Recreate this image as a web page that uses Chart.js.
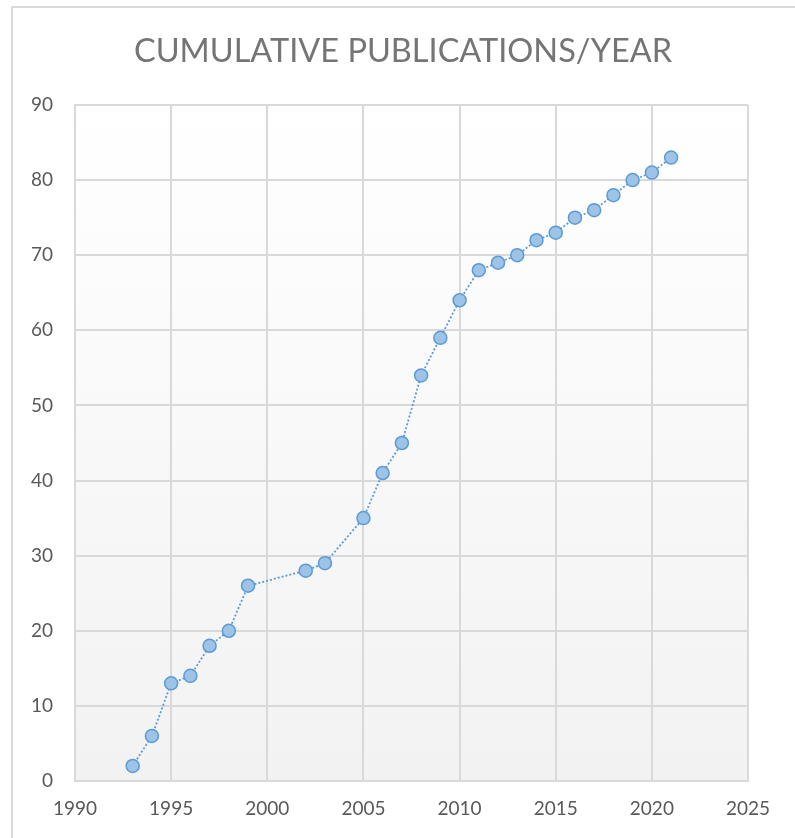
<!DOCTYPE html>
<html>
<head>
<meta charset="utf-8">
<script src="https://cdn.jsdelivr.net/npm/chart.js@4"></script>
<style>
  html, body { margin: 0; padding: 0; background: #ffffff; }
  #wrap { position: relative; width: 795px; height: 838px; overflow: hidden; }
  #frame { position: absolute; left: 11px; top: 6px; width: 900px; height: 900px;
           border-left: 2px solid #d9d9d9; border-top: 2px solid #d9d9d9; pointer-events: none; }
  #title { position: absolute; left: 11px; width: 784px; top: 30px; text-align: center;
           font-family: Lato, sans-serif; font-size: 32.5px; line-height: 40px; color: #757575; }
  canvas { position: absolute; left: 0; top: 0; }
</style>
</head>
<body>
<div id="wrap">
  <canvas id="c" width="795" height="838"></canvas>
  <div id="frame"></div>
  <div id="title"></div>
</div>
<script>
const years = [1993, 1994, 1995, 1996, 1997, 1998, 1999, 2002, 2003, 2005, 2006, 2007, 2008, 2009, 2010, 2011, 2012, 2013, 2014, 2015, 2016, 2017, 2018, 2019, 2020, 2021];
const publications = [2, 6, 13, 14, 18, 20, 26, 28, 29, 35, 41, 45, 54, 59, 64, 68, 69, 70, 72, 73, 75, 76, 78, 80, 81, 83];
const chartTitle = 'CUMULATIVE PUBLICATIONS/YEAR';

document.getElementById('title').textContent = chartTitle;
const points = years.map((y, i) => ({ x: y, y: publications[i] }));

const plotBg = {
  id: 'plotBg',
  beforeDraw(chart) {
    const { ctx, chartArea: a } = chart;
    const g = ctx.createLinearGradient(0, a.top, 0, a.bottom);
    g.addColorStop(0, '#ffffff');
    g.addColorStop(1, '#f2f2f2');
    ctx.save();
    ctx.fillStyle = g;
    ctx.fillRect(a.left, a.top, a.right - a.left, a.bottom - a.top);
    ctx.restore();
  }
};

new Chart(document.getElementById('c'), {
  type: 'scatter',
  data: {
    datasets: [{
      data: points,
      showLine: true,
      borderColor: '#5b9bd5',
      borderWidth: 1.8,
      borderDash: [2, 2],
      pointBackgroundColor: '#9dc3e6',
      pointBorderColor: '#5b9bd5',
      pointBorderWidth: 1.5,
      pointRadius: 6.5,
      pointHoverRadius: 6.5
    }]
  },
  options: {
    responsive: false,
    animation: false,
    layout: { padding: { left: 0, right: 47, top: 105, bottom: 0 } },
    plugins: {
      legend: { display: false },
      tooltip: { enabled: false },
      title: { display: false }
    },
    scales: {
      x: {
        type: 'linear',
        min: 1990,
        max: 2025,
        afterFit(s) { s.height = 57; },
        ticks: { stepSize: 5, color: '#595959', padding: 16, font: { family: 'Lato', size: 19 },
                 callback: v => String(v) },
        grid: { color: '#d9d9d9', lineWidth: 2, drawTicks: false },
        border: { color: '#d9d9d9', width: 2 }
      },
      y: {
        min: 0,
        max: 90,
        afterFit(s) { s.width = 75; },
        ticks: { stepSize: 10, color: '#595959', padding: 22, font: { family: 'Lato', size: 19 } },
        grid: { color: '#d9d9d9', lineWidth: 2, drawTicks: false },
        border: { color: '#d9d9d9', width: 2 }
      }
    }
  },
  plugins: [plotBg]
});
</script>
</body>
</html>
